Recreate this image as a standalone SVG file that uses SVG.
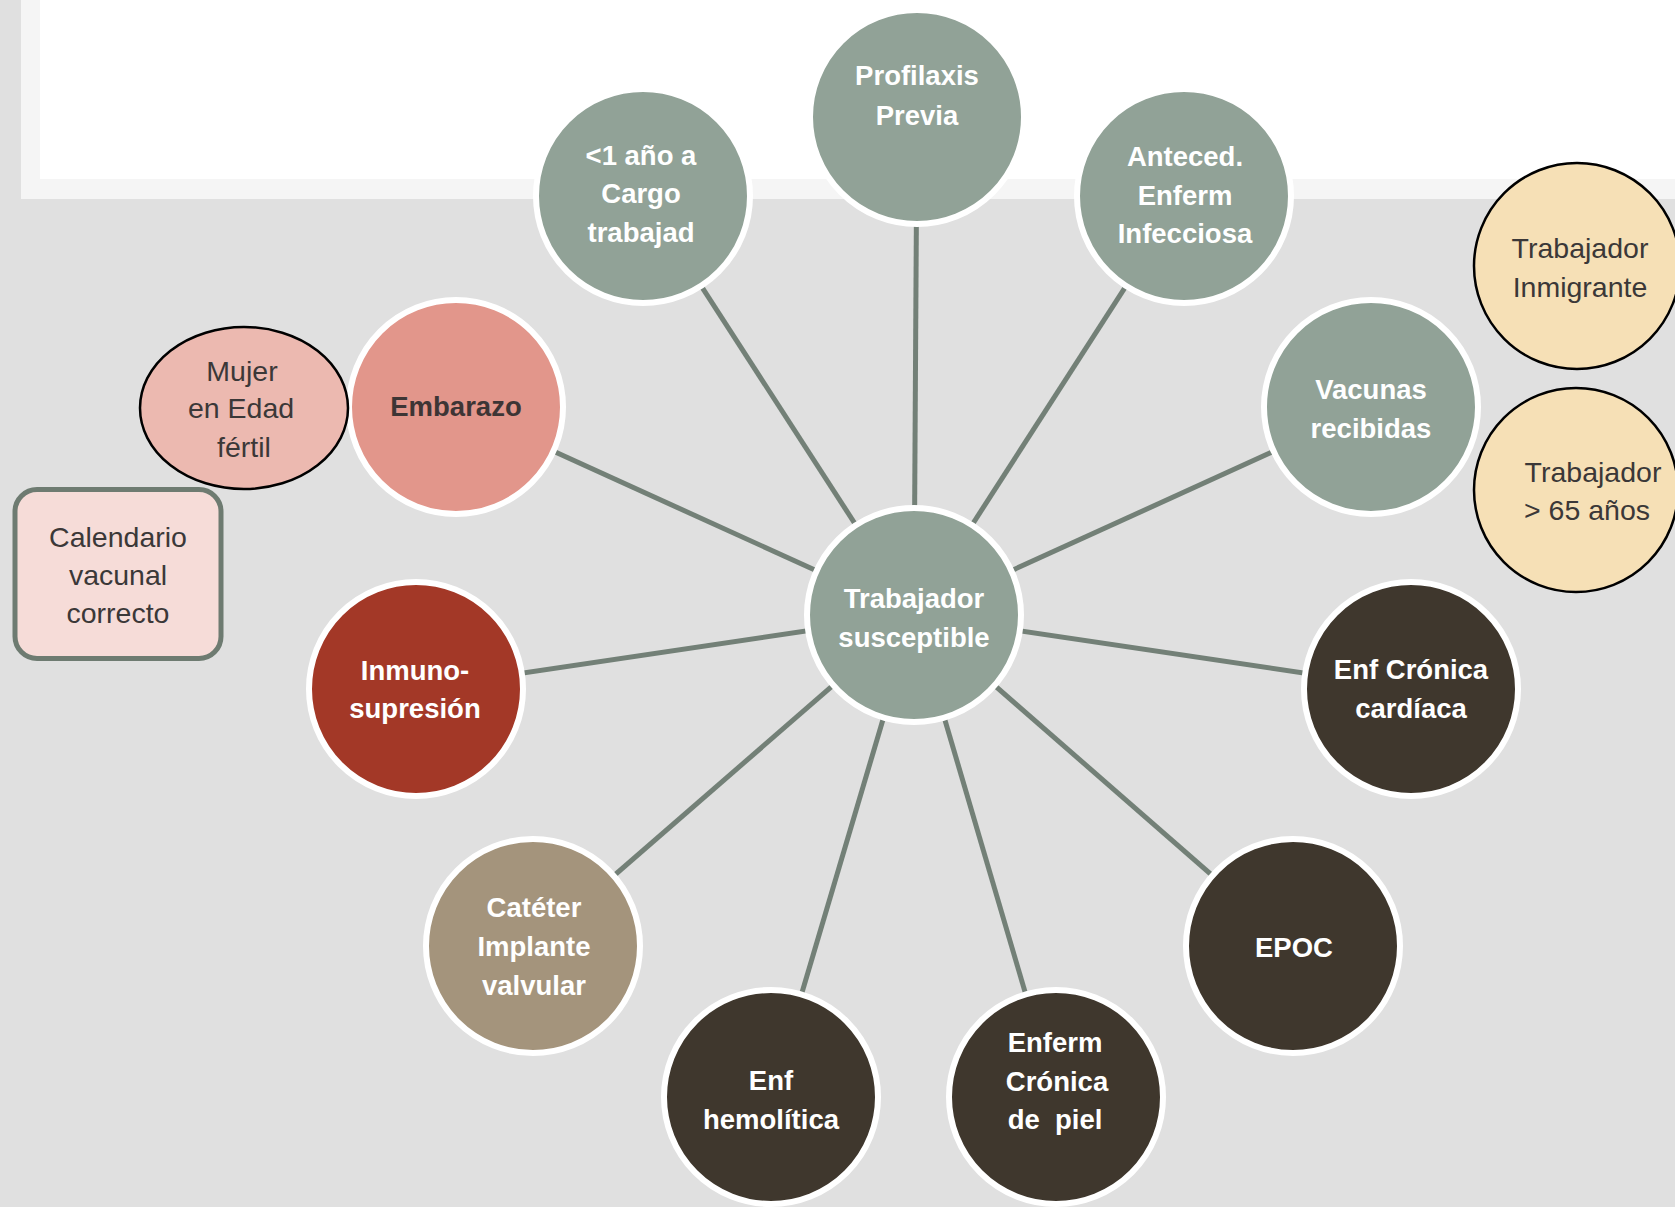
<svg xmlns="http://www.w3.org/2000/svg" width="1675" height="1207" viewBox="0 0 1675 1207">
  <style>
    .node { stroke: #ffffff; stroke-width: 6; }
    .sage { fill: #91a297; }
    .rose { fill: #e2968b; }
    .rust { fill: #a33827; }
    .dark { fill: #3f372d; }
    .taupe { fill: #a4947c; }
    .side { stroke: #000000; stroke-width: 2.5; }
    .pink { fill: #ecb9b0; }
    .sand { fill: #f6e0b6; }
    .link { stroke: #738077; stroke-width: 5; stroke-linecap: butt; fill: none; }
    .lbl { font-family: "Liberation Sans", Arial, sans-serif; font-size: 27.5px; font-weight: bold; fill: #ffffff; text-anchor: middle; }
    .lbl-dark { font-family: "Liberation Sans", Arial, sans-serif; font-size: 27.5px; font-weight: bold; fill: #3d3535; text-anchor: middle; }
    .note { font-family: "Liberation Sans", Arial, sans-serif; font-size: 28.5px; fill: #3b3838; text-anchor: middle; }
  </style>

  <!-- backdrop and title panel -->
  <rect x="0" y="0" width="1675" height="1207" fill="#e0e0e0"/>
  <rect x="21" y="0" width="1654" height="199" fill="#f5f5f5"/>
  <rect x="40" y="0" width="1635" height="179" fill="#ffffff"/>

  <!-- spokes from the hub to each factor -->
  <g id="connectors">
    <line class="link" x1="914" y1="615" x2="917" y2="117"/>
    <line class="link" x1="914" y1="615" x2="643" y2="196"/>
    <line class="link" x1="914" y1="615" x2="1184" y2="196"/>
    <line class="link" x1="914" y1="615" x2="456" y2="407"/>
    <line class="link" x1="914" y1="615" x2="1371" y2="407"/>
    <line class="link" x1="914" y1="615" x2="416" y2="689"/>
    <line class="link" x1="914" y1="615" x2="1411" y2="689"/>
    <line class="link" x1="914" y1="615" x2="533" y2="946"/>
    <line class="link" x1="914" y1="615" x2="1293" y2="946"/>
    <line class="link" x1="914" y1="615" x2="771" y2="1097"/>
    <line class="link" x1="914" y1="615" x2="1056" y2="1097"/>
  </g>

  <g id="hub">
    <circle class="node sage" cx="914" cy="615" r="107"/>
    <text class="lbl" x="914" y="608">Trabajador</text>
    <text class="lbl" x="914" y="647">susceptible</text>
  </g>

  <g id="profilaxis">
    <circle class="node sage" cx="917" cy="117" r="107"/>
    <text class="lbl" x="917" y="85">Profilaxis</text>
    <text class="lbl" x="917" y="125">Previa</text>
  </g>

  <g id="antiguedad">
    <circle class="node sage" cx="643" cy="196" r="107"/>
    <text class="lbl" x="641" y="165">&lt;1 año a</text>
    <text class="lbl" x="641" y="203">Cargo</text>
    <text class="lbl" x="641" y="242">trabajad</text>
  </g>

  <g id="antecedentes">
    <circle class="node sage" cx="1184" cy="196" r="107"/>
    <text class="lbl" x="1185" y="166">Anteced.</text>
    <text class="lbl" x="1185" y="205">Enferm</text>
    <text class="lbl" x="1185" y="243">Infecciosa</text>
  </g>

  <g id="vacunas">
    <circle class="node sage" cx="1371" cy="407" r="107"/>
    <text class="lbl" x="1371" y="399">Vacunas</text>
    <text class="lbl" x="1371" y="438">recibidas</text>
  </g>

  <g id="embarazo">
    <circle class="node rose" cx="456" cy="407" r="107"/>
    <text class="lbl-dark" x="456" y="416">Embarazo</text>
  </g>

  <g id="mujer">
    <ellipse class="side pink" cx="244" cy="408" rx="104" ry="81"/>
    <text class="note" x="242" y="381">Mujer</text>
    <text class="note" x="241" y="418">en Edad</text>
    <text class="note" x="244" y="457">fértil</text>
  </g>

  <g id="calendario">
    <rect x="15" y="489.5" width="206" height="169" rx="22" fill="#f6dcd8" stroke="#6e7b71" stroke-width="5"/>
    <text class="note" x="118" y="547">Calendario</text>
    <text class="note" x="118" y="585">vacunal</text>
    <text class="note" x="118" y="623">correcto</text>
  </g>

  <g id="inmunosupresion">
    <circle class="node rust" cx="416" cy="689" r="107"/>
    <text class="lbl" x="415" y="680">Inmuno-</text>
    <text class="lbl" x="415" y="718">supresión</text>
  </g>

  <g id="cateter">
    <circle class="node taupe" cx="533" cy="946" r="107"/>
    <text class="lbl" x="534" y="917">Catéter</text>
    <text class="lbl" x="534" y="956">Implante</text>
    <text class="lbl" x="534" y="995">valvular</text>
  </g>

  <g id="hemolitica">
    <circle class="node dark" cx="771" cy="1097" r="107"/>
    <text class="lbl" x="771" y="1090">Enf</text>
    <text class="lbl" x="771" y="1129">hemolítica</text>
  </g>

  <g id="piel">
    <circle class="node dark" cx="1056" cy="1097" r="107"/>
    <text class="lbl" x="1055" y="1052">Enferm</text>
    <text class="lbl" x="1057" y="1091">Crónica</text>
    <text class="lbl" x="1055" y="1129" xml:space="preserve">de  piel</text>
  </g>

  <g id="epoc">
    <circle class="node dark" cx="1293" cy="946" r="107"/>
    <text class="lbl" x="1294" y="957">EPOC</text>
  </g>

  <g id="cardiaca">
    <circle class="node dark" cx="1411" cy="689" r="107"/>
    <text class="lbl" x="1411" y="679">Enf Crónica</text>
    <text class="lbl" x="1411" y="718">cardíaca</text>
  </g>

  <g id="inmigrante">
    <circle class="side sand" cx="1577" cy="266" r="103"/>
    <text class="note" x="1580" y="258">Trabajador</text>
    <text class="note" x="1580" y="297">Inmigrante</text>
  </g>

  <g id="mayor65">
    <circle class="side sand" cx="1576" cy="490" r="102"/>
    <text class="note" x="1593" y="482">Trabajador</text>
    <text class="note" x="1587" y="520">&gt; 65 años</text>
  </g>
</svg>
